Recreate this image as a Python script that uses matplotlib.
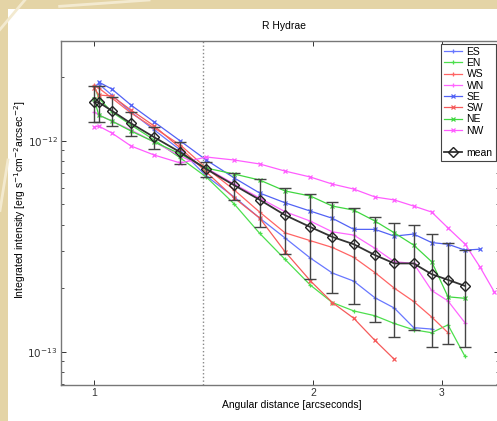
import matplotlib
matplotlib.use("Agg")
import matplotlib.pyplot as plt
from matplotlib.lines import Line2D
from matplotlib.patches import Rectangle
from matplotlib.ticker import LogLocator, NullLocator, NullFormatter, FixedLocator, FixedFormatter

plt.rcParams['font.family'] = ['Liberation Sans', 'DejaVu Sans']

# radial positions [arcsec]
dist = [1.0, 1.014, 1.057, 1.123, 1.209, 1.313, 1.425, 1.557, 1.687, 1.828, 1.98,
        2.123, 2.272, 2.43, 2.583, 2.746, 2.907, 3.061, 3.23, 3.387, 3.544]

# intensities in units of 1e-13 erg s-1 cm-2 arcsec-2
es = [18.17, 18.57, 16.47, 13.68, 11.24, 9.03, 6.8, 5.41, 4.3, 3.46, 2.78, 2.36, 2.16, 1.8, 1.61, 1.3, 1.28]
en = [18.17, 15.94, 13.68, 11.87, 10.08, 8.28, 6.73, 5.01, 3.64, 2.74, 2.07, 1.71, 1.56, 1.48, 1.36, 1.27, 1.23, 1.34, 0.95]
ws = [18.36, 17.77, 15.94, 13.53, 11.49, 9.54, 7.42, 5.84, 4.59, 3.66, 3.36, 3.12, 2.8, 2.37, 2.0, 1.73, 1.46, 1.23]
wn = [13.68, 13.24, 12.40, 11.24, 9.86, 8.46, 7.42, 6.23, 5.35, 4.61, 4.16, 3.70, 3.57, 3.09, 2.67, 2.62, 1.95, 1.74, 1.37]
se = [18.98, 17.58, 14.76, 12.26, 9.97, 8.1, 6.66, 5.65, 5.08, 4.64, 4.29, 3.8, 3.8, 3.53, 3.61, 3.29, 3.23, 3.03, 3.06]
sw = [17.77, 16.47, 16.29, 13.98, 11.74, 9.23, 7.11, 5.35, 4.3, 2.98, 2.17, 1.71, 1.44, 1.13, 0.92]
ne = [15.76, 13.24, 12.4, 11.12, 9.86, 8.65, 7.42, 6.95, 6.51, 5.78, 5.47, 4.9, 4.69, 4.16, 3.66, 3.2, 2.67, 1.82, 1.79]
nw = [11.61, 11.74, 10.88, 9.44, 8.55, 7.84, 8.37, 8.10, 7.76, 7.18, 6.73, 6.23, 5.90, 5.41, 5.24, 4.90,
      4.59, 3.86, 3.24, 2.52, 1.92]
mean = [15.21, 15.21, 13.87, 12.09, 10.38, 8.81, 7.34, 6.15, 5.25, 4.44, 3.9, 3.5, 3.23, 2.87, 2.62, 2.62,
        2.33, 2.19, 2.05]
std = [2.96, 2.96, 2.18, 1.54, 1.2, 1.05, 0.61, 0.91, 1.33, 1.54, 1.69, 1.61, 1.55, 1.49, 1.44, 1.36,
       1.28, 1.1, 1.0]

# (label, values, first index in dist, colour, marker)
series = [
    ('ES', es, 0, '#6877ff', '+'),
    ('EN', en, 0, '#4ddf4d', '+'),
    ('WS', ws, 0, '#ff6464', '+'),
    ('WN', wn, 0, '#ff66ff', '+'),
    ('SE', se, 1, '#5262f5', 'x'),
    ('SW', sw, 0, '#f55a5a', 'x'),
    ('NE', ne, 0, '#40d840', 'x'),
    ('NW', nw, 0, '#ff5cff', 'x'),
]

W, H = 497, 421
fig = plt.figure(figsize=(W / 100, H / 100), dpi=100, facecolor='#e4d4a6')
# white page over the parchment background
fig.patches.append(Rectangle((8 / W, 0), 1, 1 - 9 / H, transform=fig.transFigure,
                             facecolor='white', edgecolor='none', zorder=-10))
for x0, y0, x1, y1 in [(0, 0.93, 0.05, 1.0), (0.12, 0.985, 0.3, 1.0), (0.0, 0.5, 0.016, 0.62)]:
    fig.add_artist(Line2D([x0, x1], [y0, y1], transform=fig.transFigure,
                          color='#f3ead0', lw=2, zorder=-9))

ax = fig.add_axes([61 / W, 1 - 385 / H, (499 - 61) / W, (385 - 41) / H])
ax.set_zorder(1)
ax.set_facecolor('white')

handles = []
for name, vals, start, col, mk in series:
    xs = dist[start:start + len(vals)]
    ys = [v * 1e-13 for v in vals]
    h, = ax.plot(xs, ys, color=col, lw=0.9, marker=mk, ms=3.5, mew=0.9, label=name)
    handles.append(h)

mx = dist[:len(mean)]
my = [v * 1e-13 for v in mean]
ey = [v * 1e-13 for v in std]
ax.errorbar(mx, my, yerr=ey, fmt='none', ecolor='#444444', elinewidth=1.0, capsize=4, capthick=1.0, zorder=4)
hm, = ax.plot(mx, my, color='#333333', lw=1.3, marker='D', ms=5, mfc='none', mec='#222222', mew=1.0, zorder=5)

ax.axvline(1.41, color='#888888', ls=':', lw=1.0, zorder=1)

ax.set_xscale('log')
ax.set_yscale('log')
ax.set_xlim(0.9, 3.597)
ax.set_ylim(6.95e-14, 2.97e-12)

ax.xaxis.set_major_locator(FixedLocator([1, 2, 3]))
ax.xaxis.set_major_formatter(FixedFormatter(['1', '2', '3']))
ax.xaxis.set_minor_locator(NullLocator())
ax.yaxis.set_major_locator(FixedLocator([1e-13, 1e-12]))
ax.yaxis.set_major_formatter(FixedFormatter([r'$10^{-13}$', r'$10^{-12}$']))
ax.yaxis.set_minor_locator(LogLocator(base=10, subs=range(2, 10)))
ax.yaxis.set_minor_formatter(NullFormatter())

ax.tick_params(which='both', direction='in', top=True, right=True, labelsize=7.5, colors='#333333')
ax.tick_params(which='major', length=3.5, width=0.7, pad=2.5)
ax.tick_params(which='minor', length=2, width=0.6)
for sp in ax.spines.values():
    sp.set_color('#777777')
    sp.set_linewidth(1.0)

ax.set_title('R Hydrae', fontsize=7.5, x=0.509, pad=9)
ax.set_xlabel('Angular distance [arcseconds]', fontsize=7.5)
ax.xaxis.set_label_coords(0.527, -0.043)
ax.set_ylabel(r'Integrated intensity [erg s$^{-1}$cm$^{-2}$arcsec$^{-2}$]', fontsize=7.5)
ax.yaxis.set_label_coords(-0.076, 0.538)

blank = Line2D([], [], color='none')
leg = ax.legend(handles + [blank, hm], [s[0] for s in series] + ['', 'mean'],
                loc='upper right', bbox_to_anchor=(0.9925, 0.992), fontsize=7.5,
                fancybox=False, edgecolor='#444444', framealpha=1,
                labelspacing=0.12, handlelength=1.8, handletextpad=0.4,
                borderpad=0.3, borderaxespad=0.0)
leg.get_frame().set_linewidth(0.8)

fig.savefig('out.png', dpi=100, facecolor=fig.get_facecolor())
